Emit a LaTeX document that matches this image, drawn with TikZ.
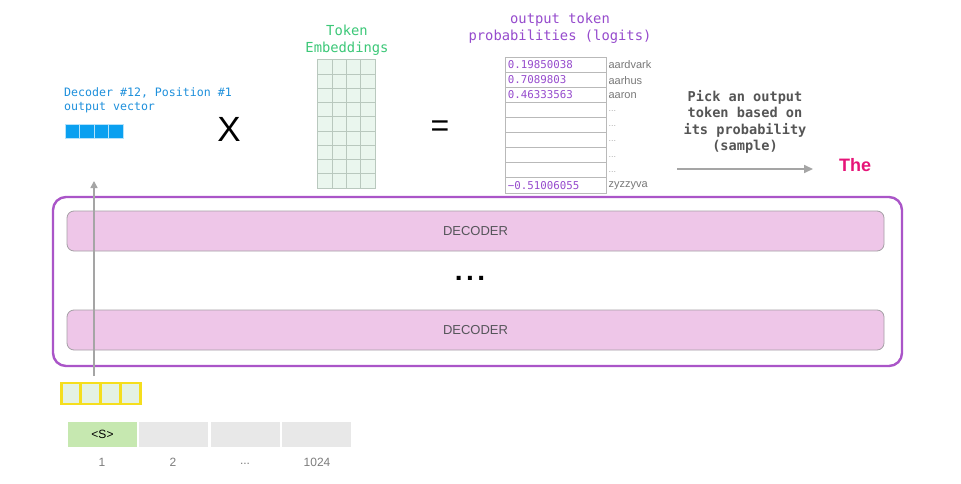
\documentclass[tikz,border=0pt]{standalone}
\usepackage{fontspec}
\setmainfont{Liberation Sans}
\newfontfamily\monof{DejaVu Sans Mono}
\usetikzlibrary{arrows.meta}
\definecolor{outerpurple}{RGB}{170,85,200}
\definecolor{decfill}{RGB}{238,198,232}
\definecolor{decdraw}{RGB}{165,160,165}
\definecolor{dectext}{RGB}{85,85,90}
\definecolor{bluetext}{RGB}{30,144,220}
\definecolor{bluefill}{RGB}{10,160,240}
\definecolor{greentext}{RGB}{60,200,120}
\definecolor{gridfill}{RGB}{234,246,238}
\definecolor{gridline}{RGB}{185,200,190}
\definecolor{purpletext}{RGB}{150,75,205}
\definecolor{tabline}{RGB}{185,185,185}
\definecolor{graylab}{RGB}{120,120,120}
\definecolor{picktext}{RGB}{85,85,85}
\definecolor{arrowgray}{RGB}{165,165,165}
\definecolor{thepink}{RGB}{230,20,120}
\definecolor{yellowline}{RGB}{245,222,30}
\definecolor{ycell}{RGB}{228,242,228}
\definecolor{tokgreen}{RGB}{198,232,176}
\definecolor{tokgray}{RGB}{232,232,232}
\definecolor{numgray}{RGB}{125,125,125}
\tikzset{
  decbox/.style={draw=decdraw, line width=0.8pt, fill=decfill, rounded corners=7pt,
     minimum width=817pt, minimum height=40pt, inner sep=0pt,
     font=\fontsize{13}{13}\selectfont, text=dectext},
  bluecell/.style={draw=white!70!bluefill, line width=0.8pt, fill=bluefill, minimum width=14.5pt, minimum height=14pt, inner sep=0pt},
  ycellst/.style={draw=yellowline, line width=2.8pt, fill=ycell, minimum width=19.75pt, minimum height=21pt, inner sep=0pt},
  tabrow/.style={draw=tabline, line width=0.7pt, fill=white, minimum width=101pt, minimum height=15.1pt, inner sep=0pt},
  val/.style={anchor=west, inner sep=0pt, text=purpletext, font=\monof\fontsize{10.8}{10.8}\selectfont},
  wordlab/.style={anchor=west, inner sep=0pt, text=graylab, font=\fontsize{11}{11}\selectfont},
  dotlab/.style={anchor=west, inner sep=0pt, text=graylab!60, font=\fontsize{9}{9}\selectfont},
  tokcell/.style={fill=tokgray, minimum width=69pt, minimum height=25pt, inner sep=0pt, font=\fontsize{12}{12}\selectfont},
  numlab/.style={inner sep=0pt, text=numgray, font=\fontsize{12}{12}\selectfont},
  grayarrow/.style={draw=arrowgray, line width=1.6pt, -{Triangle[length=9pt,width=8pt]}}
}
\begin{document}
\begin{tikzpicture}[x=1pt,y=-1pt]
\useasboundingbox[fill=white] (0,0) rectangle (961,484);

% outer decoder stack
\node[draw=outerpurple, line width=2.4pt, rounded corners=13pt, minimum width=849pt, minimum height=169pt, inner sep=0pt] (stack) at (477.5,281.5) {};
\node[decbox] (dec1) at (475.5,231) {DECODER};
\node[decbox] (dec2) at (475.5,330) {DECODER};
\node[inner sep=0pt, font=\fontsize{28}{28}\selectfont\bfseries] (dots) at (470,278) {.\kern3.4pt.\kern3.4pt.};

% input vector (yellow)
\foreach \i in {0,...,3}{
  \node[ycellst] (y\i) at ({71+\i*19.75},393.5) {};
}
% arrow up through the stack
\coordinate (abot) at (94,376);
\coordinate (atop) at (94,181);
\draw[draw=arrowgray, line width=1.5pt, -{Triangle[length=7pt,width=7pt]}] (abot) -- (atop);

% token positions
\node[tokcell, fill=tokgreen] (t1) at (102.5,434.5) {<S>};
\node[tokcell] (t2) at (173.5,434.5) {};
\node[tokcell] (t3) at (245,434.5) {};
\node[tokcell] (t4) at (316.5,434.5) {};
\node[numlab] (n1) at (102,462) {1};
\node[numlab] (n2) at (173,462) {2};
\node[numlab] (n3) at (245,464) {...};
\node[numlab] (n4) at (317,462) {1024};

% output vector
\node[anchor=north west, inner sep=0pt, align=left, text=bluetext, font=\monof\fontsize{11.6}{14}\selectfont] (ovlab) at (64,87) {Decoder \#12, Position \#1\\output vector};
\foreach \i in {0,...,3}{
  \node[bluecell] (b\i) at ({72.3+\i*14.5},131) {};
}
\node[inner sep=0pt, font=\fontsize{35}{35}\selectfont] (times) at (229,129) {X};

% token embeddings
\node[inner sep=0pt, align=center, text=greentext, font=\monof\fontsize{13.8}{16.5}\selectfont] (emblab) at (347,40) {Token\\Embeddings};
\node[fill=gridfill, minimum width=57pt, minimum height=128pt, inner sep=0pt] (emb) at (346.5,124) {};
\foreach \c in {1,2,3}{
  \draw[draw=gridline, line width=0.7pt] ([xshift={\c*14.25pt}]emb.north west) -- ([xshift={\c*14.25pt}]emb.south west);
}
\foreach \r in {1,...,8}{
  \draw[draw=gridline, line width=0.7pt] ([yshift={-\r*14.222pt}]emb.north west) -- ([yshift={-\r*14.222pt}]emb.north east);
}
\draw[draw=gridline, line width=0.7pt] (emb.north west) rectangle (emb.south east);

\node[inner sep=0pt, font=\fontsize{32}{32}\selectfont] (equals) at (440,129) {=};

% logits
\node[inner sep=0pt, align=center, text=purpletext, font=\monof\fontsize{13.8}{16.5}\selectfont] (loglab) at (560,28) {output token\\probabilities (logits)};
\foreach \i in {0,...,8}{
  \node[tabrow] (r\i) at (555.5,{64.5+\i*15.1}) {};
}
\node[val] (v0) at ([xshift=3pt]r0.west) {0.19850038};
\node[val] (v1) at ([xshift=3pt]r1.west) {0.7089803};
\node[val] (v2) at ([xshift=3pt]r2.west) {0.46333563};
\node[val] (v8) at ([xshift=3pt]r8.west) {−0.51006055};
\node[wordlab] (w0) at ([xshift=2pt,yshift=-0.5pt]r0.east) {aardvark};
\node[wordlab] (w1) at ([xshift=2pt,yshift=-0.5pt]r1.east) {aarhus};
\node[wordlab] (w2) at ([xshift=2pt,yshift=-0.5pt]r2.east) {aaron};
\foreach \i in {3,...,7}{
  \node[dotlab] (w\i) at ([xshift=2pt,yshift=-1.5pt]r\i.east) {...};
}
\node[wordlab] (w8) at ([xshift=2pt,yshift=-0.5pt]r8.east) {zyzzyva};

% sampling
\node[inner sep=0pt, align=center, text=picktext, font=\monof\bfseries\fontsize{13.6}{16.3}\selectfont] (pick) at (745,122) {Pick an output\\token based on\\its probability\\(sample)};
\coordinate (sstart) at (677,169);
\node[inner sep=0pt, text=thepink, font=\bfseries\fontsize{18}{18}\selectfont] (the) at (855,165) {The};
\coordinate (send) at (813,169);
\draw[grayarrow] (sstart) -- (send);
\end{tikzpicture}
\end{document}
